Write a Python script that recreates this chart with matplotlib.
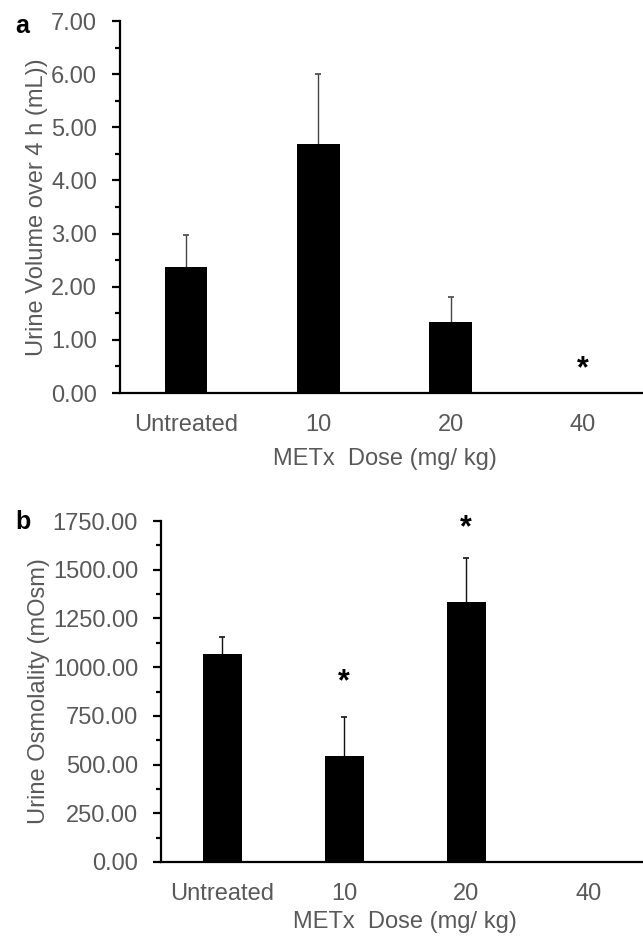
import numpy as np
import matplotlib
matplotlib.use("Agg")
import matplotlib.pyplot as plt
from matplotlib.ticker import MultipleLocator, FormatStrFormatter

plt.rcParams['font.family'] = ['Liberation Sans', 'DejaVu Sans']

# data
doses = ["Untreated", "10", "20", "40"]

volume = [2.38, 4.69, 1.33, 0.0]      # mL over 4 h
volume_sd = [0.59, 1.32, 0.47, 0.0]
volume_star = [None, None, None, 0.44]

osmo = [1067, 545, 1336, 0]           # mOsm
osmo_sd = [88, 199, 224, 0]
osmo_star = [None, 920, 1712, None]

GRAY = "#595959"
FS = 17


def panel(ax, vals, sd, stars, ymax, ystep, ylabel, errcolor, ylab_x, xlab_y):
    x = np.arange(len(doses))
    ax.bar(x, vals, width=0.32, color="black", zorder=2)
    # only the upper half shows, the bar hides the rest
    for xi, v, e in zip(x, vals, sd):
        if e > 0:
            ax.errorbar(xi, v, yerr=e, fmt="none", ecolor=errcolor,
                        elinewidth=1.0, capsize=2.2, capthick=1.2, zorder=1)
    for xi, s in zip(x, stars):
        if s is not None:
            ax.text(xi, s, "*", ha="center", va="center", fontsize=22,
                    fontweight="bold", color="black")
    ax.set_xlim(-0.5, 3.5)
    ax.set_ylim(0, ymax)
    ax.yaxis.set_major_locator(MultipleLocator(ystep))
    ax.yaxis.set_minor_locator(MultipleLocator(ystep / 2))
    ax.yaxis.set_major_formatter(FormatStrFormatter("%.2f"))
    ax.set_xticks(x)
    ax.set_xticklabels(doses)
    for s in ["top", "right"]:
        ax.spines[s].set_visible(False)
    ax.spines["left"].set_linewidth(1.6)
    ax.spines["bottom"].set_linewidth(1.6)
    ax.spines["left"].set_zorder(3)
    ax.spines["bottom"].set_zorder(3)
    ax.tick_params(axis="y", which="major", length=6, width=1.6, pad=10.5,
                   labelsize=FS, labelcolor=GRAY)
    ax.tick_params(axis="y", which="minor", length=3.5, width=1.6)
    ax.tick_params(axis="x", length=0, pad=15, labelsize=FS, labelcolor=GRAY)
    ax.set_ylabel(ylabel, fontsize=FS, color=GRAY)
    ax.yaxis.set_label_coords(ylab_x, 0.5)
    ax.set_xlabel("METx  Dose (mg/ kg)", fontsize=FS, color=GRAY)
    ax.xaxis.set_label_coords(0.5, xlab_y)


fig = plt.figure(figsize=(6.43, 9.36), dpi=100)

ax1 = fig.add_axes([120 / 643, 1 - 393 / 936, 529 / 643, 372 / 936])
panel(ax1, volume, volume_sd, volume_star, 7, 1, "Urine Volume over 4 h (mL))",
      "#444444", -0.136, -0.148)

ax2 = fig.add_axes([161 / 643, 1 - 862 / 936, 488.5 / 643, 341 / 936])
panel(ax2, osmo, osmo_sd, osmo_star, 1750, 250, "Urine Osmolality (mOsm)",
      "#111111", -0.227, -0.144)

fig.text(15 / 643, 1 - 26 / 936, "a", fontsize=18, fontweight="bold", va="center")
fig.text(15 / 643, 1 - 522 / 936, "b", fontsize=18, fontweight="bold", va="center")

fig.savefig("out.png", dpi=100)
